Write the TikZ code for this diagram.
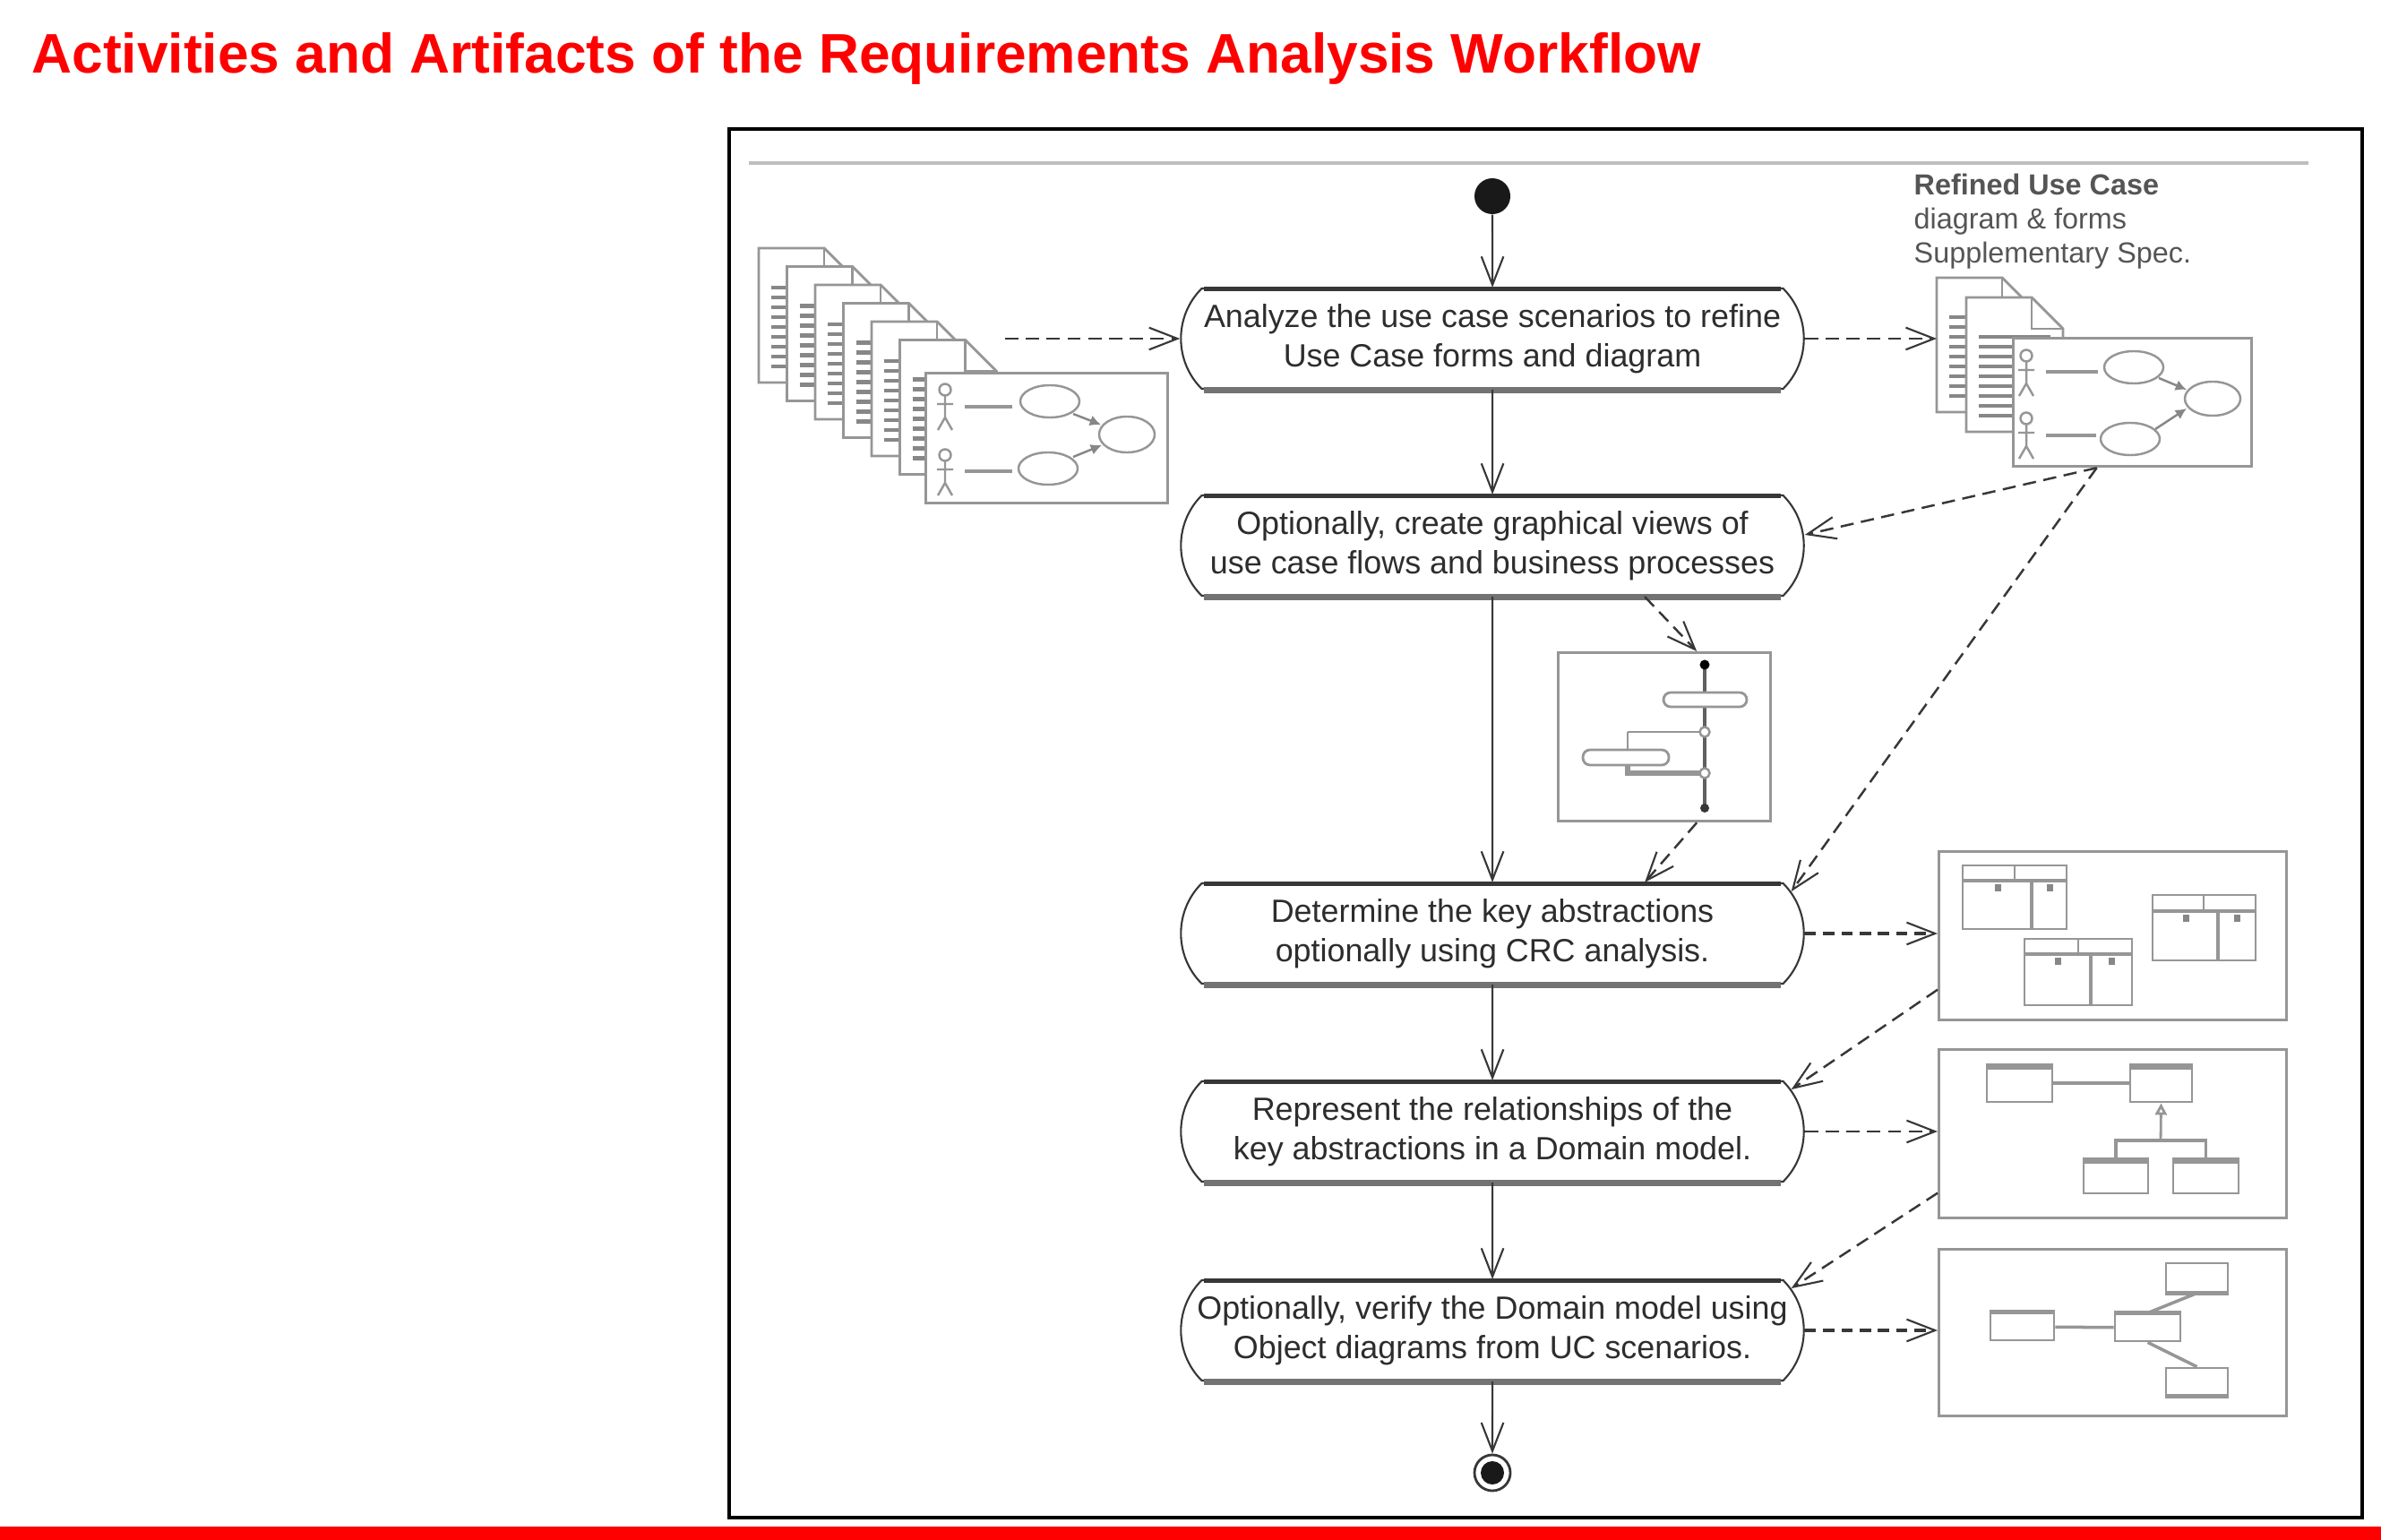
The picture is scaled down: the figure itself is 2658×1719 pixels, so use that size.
\documentclass[tikz,border=0pt]{standalone}
\usepackage{fontspec}
\setmainfont{Liberation Sans}
\usetikzlibrary{arrows.meta,shapes.misc,calc}
\definecolor{titlered}{RGB}{255,0,0}
\definecolor{txtc}{RGB}{45,45,45}
\definecolor{lnc}{RGB}{55,55,55}
\definecolor{artc}{RGB}{150,150,150}
\definecolor{artd}{RGB}{135,135,135}
\definecolor{labc}{RGB}{85,85,85}
\begin{document}
\begin{tikzpicture}[x=0.01cm,y=-0.01cm,
  tipv/.style={-{Straight Barb[length=9pt,width=7pt,line width=0.6pt]}},
  flow/.style={draw=lnc,line width=0.6pt,tipv},
  dep/.style={draw=lnc,line width=0.7pt,dash pattern=on 4.2pt off 2.4pt,tipv},
  depb/.style={draw=lnc,line width=1.1pt,dash pattern=on 3.6pt off 2.2pt,tipv},
  actnode/.style={rounded rectangle,rounded rectangle arc length=90,draw=lnc,line width=0.6pt,
    fill=white,minimum width=6.95cm,minimum height=1.12cm,inner sep=0pt,align=center,
    font=\fontsize{10.2}{12.5}\selectfont,text=txtc},
  artbox/.style={rectangle,draw=artc,line width=0.9pt,fill=white,inner sep=0pt,anchor=north west},
  stripe/.style={draw=artd,line width=1.4pt},
  thin/.style={draw=artc,line width=0.7pt},
  classbox/.style={rectangle,draw=artc,line width=0.8pt,fill=white,inner sep=0pt,
    path picture={\fill[artc] (path picture bounding box.north west) rectangle ([yshift=-1.6pt]path picture bounding box.north east);}},
  objbox/.style={rectangle,draw=artc,line width=0.8pt,fill=white,inner sep=0pt},
  docpage/.pic={
    \filldraw[draw=artc,fill=white,line width=0.8pt] (0,0) -- (73,0) -- (108,35) -- (108,150) -- (0,150) -- cycle;
    \draw[artc,line width=0.8pt] (73,0) -- (73,35) -- (108,35);
    \foreach \yy in {44,55,...,132} {\draw[stripe] (14,\yy) -- (94,\yy);}
  },
  actorfig/.pic={
    \draw[artc,line width=0.7pt] (0,0) circle[radius=0.065cm];
    \draw[artc,line width=0.7pt] (0,7) -- (0,31) (-9,16) -- (9,16) (-8,45) -- (0,31) -- (8,45);
  },
]
\useasboundingbox (0,0) rectangle (2658,1719);
\fill[white] (0,0) rectangle (2658,1719);

% title and bars
\node[anchor=base west,inner sep=0pt,font=\fontsize{17.7}{20}\selectfont\bfseries,text=titlered] (title) at (35,82)
  {Activities and Artifacts of the Requirements Analysis Workflow};
\fill[titlered] (0,1704) rectangle (2658,1719);
\draw[black,line width=1.1pt] (814,144) rectangle (2637,1694);
\draw[black!25,line width=1.1pt] (836,182) -- (2577,182);

% start / end
\node[circle,fill=black!90,minimum size=0.40cm,inner sep=0pt] (start) at (1666,219) {};
\node[circle,draw=lnc,line width=0.8pt,fill=white,minimum size=0.40cm,inner sep=0pt] (end) at (1666,1644) {};
\fill[black!90] (end.center) circle[radius=0.13cm];

% activity nodes
\node[actnode] (n1) at (1666,378) {Analyze the use case scenarios to refine\\Use Case forms and diagram};
\node[actnode] (n2) at (1666,609) {Optionally, create graphical views of\\use case flows and business processes};
\node[actnode] (n3) at (1666,1042) {Determine the key abstractions\\optionally using CRC analysis.};
\node[actnode] (n4) at (1666,1263) {Represent the relationships of the\\key abstractions in a Domain model.};
\node[actnode] (n5) at (1666,1485) {Optionally, verify the Domain model using\\Object diagrams from UC scenarios.};
\foreach \n in {n1,n2,n3,n4,n5} {
  \draw[lnc,line width=1.4pt] ([xshift=-3.22cm,yshift=-0.5pt]\n.north) -- ([xshift=3.22cm,yshift=-0.5pt]\n.north);
  \draw[black!55,line width=2pt] ([xshift=-3.22cm,yshift=-0.2pt]\n.south) -- ([xshift=3.22cm,yshift=-0.2pt]\n.south);
}

% main flow
\draw[flow] (start) -- (n1);
\draw[flow] (n1) -- (n2);
\draw[flow] (n2) -- (n3);
\draw[flow] (n3) -- (n4);
\draw[flow] (n4) -- (n5);
\draw[flow] (n5) -- (end);

% left stack of documents
\foreach \k in {0,...,5} {\pic at ({847+31.5*\k},{277+20.5*\k}) {docpage};}
\coordinate (stk) at (1122,378);
\node[artbox,minimum width=2.70cm,minimum height=1.45cm] (lucb) at (1032,415) {};
\pic at (1055,435) {actorfig};
\pic at (1055,508) {actorfig};
\draw[artc,line width=1pt] (1077,454) -- (1130,454) (1077,526) -- (1130,526);
\draw[thin] (1172,448) ellipse[x radius=0.33cm,y radius=0.18cm];
\draw[thin] (1258,485) ellipse[x radius=0.31cm,y radius=0.20cm];
\draw[thin] (1170,523) ellipse[x radius=0.33cm,y radius=0.18cm];
\draw[artd,line width=0.7pt,-{Latex[length=3.5pt,width=3.5pt]}] (1198,462) -- (1229,474);
\draw[artd,line width=0.7pt,-{Latex[length=3.5pt,width=3.5pt]}] (1198,510) -- (1230,497);

% right: refined use case artifact
\node[anchor=north west,inner sep=0pt,align=left,text=labc,font=\fontsize{9.2}{10.9}\selectfont] (ucl) at (2136,193)
  {\textbf{Refined Use Case}\\diagram \& forms\\Supplementary Spec.};
\pic at (2162,310) {docpage};
\pic at (2195,332) {docpage};
\coordinate (ucp) at (2162,378);
\node[artbox,minimum width=2.66cm,minimum height=1.43cm] (ucR) at (2246,376) {};
\pic at (2262,397) {actorfig};
\pic at (2262,467) {actorfig};
\draw[artc,line width=1pt] (2284,415) -- (2342,415) (2284,486) -- (2340,486);
\draw[thin] (2382,410) ellipse[x radius=0.33cm,y radius=0.18cm];
\draw[thin] (2470,445) ellipse[x radius=0.31cm,y radius=0.19cm];
\draw[thin] (2378,490) ellipse[x radius=0.33cm,y radius=0.18cm];
\draw[artd,line width=0.7pt,-{Latex[length=3.5pt,width=3.5pt]}] (2410,422) -- (2441,435);
\draw[artd,line width=0.7pt,-{Latex[length=3.5pt,width=3.5pt]}] (2406,479) -- (2441,456);

% activity diagram artifact
\node[artbox,minimum width=2.37cm,minimum height=1.88cm] (actb) at (1738,727) {};
\draw[lnc!80,line width=1pt] (1903,742) -- (1903,902);
\fill[black] (1903,742) circle[radius=0.055cm];
\fill[lnc] (1903,902) circle[radius=0.05cm];
\draw[artc,line width=0.8pt] (1817,817) -- (1903,817);
\draw[artc,line width=0.8pt] (1817,817) -- (1817,837);
\draw[artc,line width=1.6pt] (1817,854) -- (1817,863) -- (1903,863);
\draw[artc,line width=0.8pt,fill=white,rounded corners=0.08cm] (1857,773) rectangle (1950,789);
\draw[artc,line width=0.8pt,fill=white,rounded corners=0.08cm] (1767,837) rectangle (1863,854);
\draw[artc,line width=0.7pt,fill=white] (1903,817) circle[radius=0.055cm];
\draw[artc,line width=0.7pt,fill=white] (1903,863) circle[radius=0.055cm];

% CRC artifact
\node[artbox,minimum width=3.88cm,minimum height=1.88cm] (crc) at (2163,949) {};
\newcommand\crccard[7]{%
  \draw[artc,line width=0.8pt,fill=white] (#1,#2) rectangle (#3,#4);
  \draw[artc,line width=1.1pt] (#1,#5) -- (#3,#5);
  \draw[artc,line width=0.8pt] (#6,#2) -- (#6,#5);
  \draw[artc,line width=1.1pt] (#7,#5) -- (#7,#4);
  \fill[artd] ({(#1+#7)/2-3},{#5+4}) rectangle ({(#1+#7)/2+4},{#5+12});
  \fill[artd] ({(#7+#3)/2-3},{#5+4}) rectangle ({(#7+#3)/2+4},{#5+12});
}
\crccard{2191}{966}{2307}{1037}{983}{2249}{2268}
\crccard{2403}{999}{2518}{1072}{1017}{2460}{2476}
\crccard{2260}{1048}{2380}{1122}{1065}{2320}{2334}

% domain model artifact
\node[artbox,minimum width=3.88cm,minimum height=1.88cm] (dom) at (2163,1170) {};
\node[classbox,minimum width=0.73cm,minimum height=0.42cm] (c1) at (2254.5,1209) {};
\node[classbox,minimum width=0.69cm,minimum height=0.42cm] (c2) at (2412.5,1209) {};
\node[classbox,minimum width=0.72cm,minimum height=0.39cm] (c3) at (2362,1312.5) {};
\node[classbox,minimum width=0.73cm,minimum height=0.39cm] (c4) at (2462.5,1312.5) {};
\coordinate (gbar) at (2412,1273);
\draw[artc,line width=1.2pt] (c1) -- (c2);
\draw[artc,line width=0.8pt,-{Triangle[open,length=0.13cm,width=0.13cm]}] (gbar) -- (c2.south);
\draw[artc,line width=0.9pt] (c3.north) |- (gbar) -| (c4.north);

% object diagram artifact
\node[artbox,minimum width=3.88cm,minimum height=1.86cm] (obj) at (2163,1393) {};
\node[objbox,minimum width=0.71cm,minimum height=0.30cm] (oA) at (2257.5,1481) {};
\node[objbox,minimum width=0.73cm,minimum height=0.30cm] (oB) at (2397.5,1482) {};
\node[objbox,minimum width=0.69cm,minimum height=0.32cm] (oC) at (2452.5,1426) {};
\node[objbox,minimum width=0.69cm,minimum height=0.30cm] (oD) at (2452.5,1542) {};
\draw[artc,line width=1.4pt] (oA.north west) -- (oA.north east) (oB.north west) -- (oB.north east)
  (oC.south west) -- (oC.south east) (oD.south west) -- (oD.south east);
\draw[artc,line width=1pt] (oA) -- (oB);
\draw[artc,line width=1pt] (oB.north) -- (oC.south);
\draw[artc,line width=1pt] (oB.south) -- (oD.north);

% dependency arrows
\draw[dep] (stk) -- (n1.west);
\draw[dep] (n1.east) -- (ucp);
\draw[dep] ([xshift=-0.4cm]ucR.south) -- ([yshift=0.12cm]n2.east);
\draw[dep] ([xshift=-0.4cm]ucR.south) -- (n3.8);
\draw[dep] ([xshift=1.7cm]n2.south) -- ([xshift=0.36cm]actb.north);
\draw[dep] ([xshift=0.36cm]actb.south) -- ([xshift=1.7cm]n3.north);
\draw[depb] (n3.east) -- (n3.east -| crc.west);
\draw[dep] ([yshift=-0.6cm]crc.west) -- (n4.8);
\draw[dep] (n4.east) -- (n4.east -| dom.west);
\draw[dep] ([yshift=-0.66cm]dom.west) -- (n5.8);
\draw[depb] (n5.east) -- (n5.east -| obj.west);
\end{tikzpicture}
\end{document}
